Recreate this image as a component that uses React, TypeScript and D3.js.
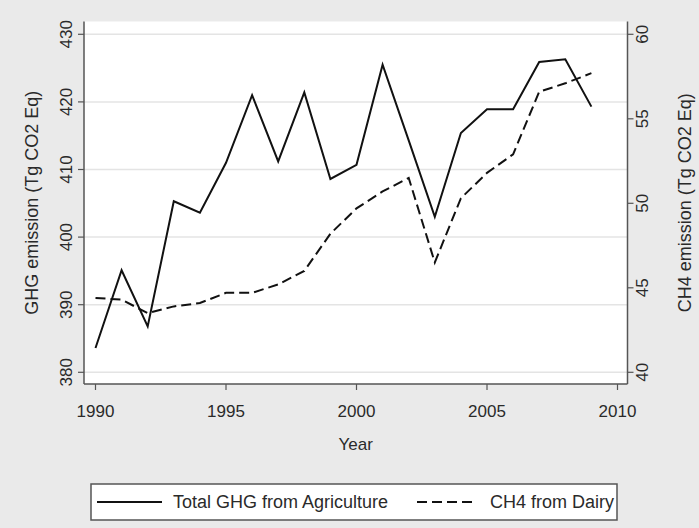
import React from "react";
import * as d3 from "d3";

const years = [1990,1991,1992,1993,1994,1995,1996,1997,1998,1999,2000,2001,2002,2003,2004,2005,2006,2007,2008,2009];
const ghgTotal = [383.6,395.1,386.8,405.3,403.6,411.0,421.0,411.2,421.4,408.6,410.7,425.5,414.3,403.0,415.4,418.9,418.9,425.9,426.3,419.3];
const ch4Dairy = [44.4,44.3,43.5,43.9,44.1,44.7,44.7,45.2,46.0,48.2,49.7,50.7,51.5,46.5,50.3,51.8,52.9,56.6,57.1,57.7];
const xTicks = [1990,1995,2000,2005,2010];
const leftTicks = [380,390,400,410,420,430];
const rightTicks = [40,45,50,55,60];
const seriesNames = ["Total GHG from Agriculture","CH4 from Dairy"];

const W = 699, H = 528;
const plotL = 84, plotR = 627.5, plotT = 21.5, plotB = 384;
const font = "'Liberation Sans', Arial, sans-serif";
const txt = "#2a2a2a";
const axisCol = "#555";

export default function App() {
  const x = d3.scaleLinear().domain([1990, 2010]).range([95.5, 617.5]);
  const yL = d3.scaleLinear().domain([380, 430]).range([372.3, 34.3]);
  const yR = d3.scaleLinear().domain([40, 60]).range([372.3, 34.3]);

  const lineL = d3.line<number>().x((_, i) => x(years[i])).y((d) => yL(d));
  const lineR = d3.line<number>().x((_, i) => x(years[i])).y((d) => yR(d));

  return (
    <svg width={W} height={H} style={{ position: "absolute", left: 0, top: 0, display: "block" }} fontFamily={font}>
      <rect x={0} y={0} width={W} height={H} fill="#eaeaea" />
      <rect x={plotL} y={plotT} width={plotR - plotL} height={plotB - plotT} fill="#ffffff" />
      {leftTicks.map((t) => (
        <line key={"g" + t} x1={plotL} x2={plotR} y1={yL(t)} y2={yL(t)} stroke="#e4e4e4" strokeWidth={1.5} />
      ))}
      <path d={lineL(ghgTotal) || ""} fill="none" stroke="#111" strokeWidth={2} strokeLinejoin="miter" />
      <path d={lineR(ch4Dairy) || ""} fill="none" stroke="#111" strokeWidth={2} strokeDasharray="10,5" />
      <line x1={plotL} x2={plotL} y1={plotT} y2={plotB} stroke={axisCol} strokeWidth={1.5} />
      <line x1={plotR} x2={plotR} y1={plotT} y2={plotB} stroke={axisCol} strokeWidth={1.5} />
      <line x1={plotL} x2={plotR} y1={plotB} y2={plotB} stroke={axisCol} strokeWidth={1.5} />
      {leftTicks.map((t) => (
        <g key={"l" + t}>
          <line x1={plotL - 6} x2={plotL} y1={yL(t)} y2={yL(t)} stroke={axisCol} strokeWidth={1.2} />
          <text transform={`translate(72, ${yL(t)}) rotate(-90)`} textAnchor="middle" fontSize={17} fill={txt}>{t}</text>
        </g>
      ))}
      {rightTicks.map((t) => (
        <g key={"r" + t}>
          <line x1={plotR} x2={plotR + 6} y1={yR(t)} y2={yR(t)} stroke={axisCol} strokeWidth={1.2} />
          <text transform={`translate(648, ${yR(t)}) rotate(-90)`} textAnchor="middle" fontSize={17} fill={txt}>{t}</text>
        </g>
      ))}
      {xTicks.map((t) => (
        <g key={"x" + t}>
          <line x1={x(t)} x2={x(t)} y1={plotB} y2={plotB + 6} stroke={axisCol} strokeWidth={1.2} />
          <text x={x(t)} y={417} textAnchor="middle" fontSize={17} fill={txt}>{t}</text>
        </g>
      ))}
      <text transform={`translate(38, ${(plotT + plotB) / 2}) rotate(-90)`} textAnchor="middle" fontSize={18} fill={txt}>GHG emission (Tg CO2 Eq)</text>
      <text transform={`translate(691, ${(plotT + plotB) / 2}) rotate(-90)`} textAnchor="middle" fontSize={18} fill={txt}>CH4 emission (Tg CO2 Eq)</text>
      <text x={(plotL + plotR) / 2} y={450} textAnchor="middle" fontSize={17} fill={txt}>Year</text>
      <rect x={91} y={484} width={526} height={36} fill="#ffffff" stroke={axisCol} strokeWidth={1.5} />
      <line x1={97} x2={162} y1={502} y2={502} stroke="#111" strokeWidth={2} />
      <text x={173} y={508} fontSize={18} fill={txt}>{seriesNames[0]}</text>
      <line x1={417} x2={473} y1={502} y2={502} stroke="#111" strokeWidth={2} strokeDasharray="10,5" />
      <text x={490} y={508} fontSize={18} fill={txt}>{seriesNames[1]}</text>
    </svg>
  );
}
